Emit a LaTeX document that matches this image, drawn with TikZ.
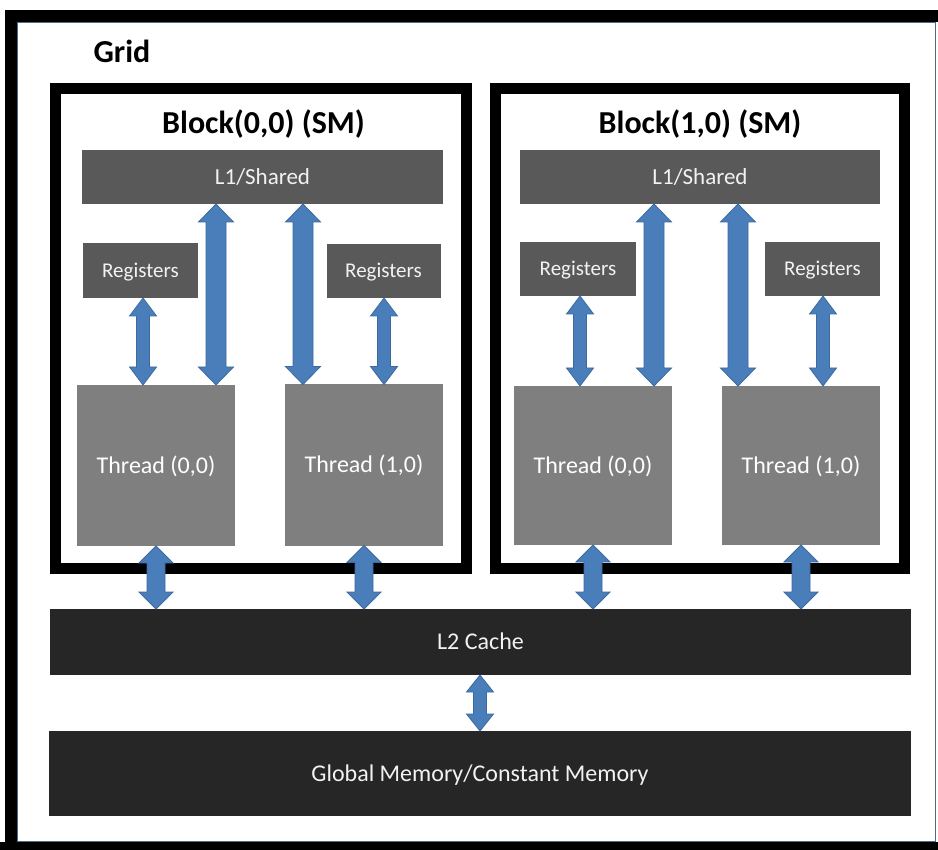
\documentclass[tikz,border=0pt]{standalone}
\usepackage{fontspec}
\setmainfont{Carlito}
\usetikzlibrary{calc}
\definecolor{darkbox}{HTML}{595959}
\definecolor{threadgray}{HTML}{7F7F7F}
\definecolor{blackbox}{HTML}{262626}
\definecolor{txt}{HTML}{F2F2F2}
\definecolor{arrowfill}{HTML}{4A7EBB}
\definecolor{arrowline}{HTML}{3C6A9E}
\definecolor{frameline}{HTML}{4F6B8A}
\newcommand{\fsz}[1]{\fontsize{#1}{#1}\selectfont}
\tikzset{
  box/.style={rectangle, inner sep=0pt, outer sep=0pt, text=txt, text depth=0pt, align=center},
  l1box/.style={box, fill=darkbox, font=\fsz{23}, text height=14.8pt},
  regbox/.style={box, fill=darkbox, font=\fsz{21}, text height=13.5pt},
  threadbox/.style={box, fill=threadgray, text=white, font=\fsz{24}, text height=15.5pt},
  membox/.style={box, fill=blackbox, font=\fsz{24}, text height=15.5pt},
  blockframe/.style={rectangle, draw=black, line width=11pt, inner sep=0pt},
  titletext/.style={font=\bfseries\fsz{32}, anchor=base, inner sep=0pt},
  barrow/.style={fill=arrowfill, draw=arrowline, line width=0.8pt, line join=miter},
}
% vertical double block arrow: #1 x, #2 top node, #3 bottom node, #4 shaft half, #5 head half, #6 head length
\newcommand{\vdarrow}[6]{%
  \path[barrow] let \p1=(#1,0 |- #2.south), \p2=(#1,0 |- #3.north) in
   (\x1,\y1) -- (\x1+#5,\y1-#6) -- (\x1+#4,\y1-#6) -- (\x1+#4,\y2+#6) -- (\x1+#5,\y2+#6)
   -- (\x1,\y2) -- (\x1-#5,\y2+#6) -- (\x1-#4,\y2+#6) -- (\x1-#4,\y1-#6) -- (\x1-#5,\y1-#6) -- cycle;}
\begin{document}
\begin{tikzpicture}[x=1pt,y=-1pt]
\useasboundingbox[fill=white] (0,0) rectangle (938,850);
% outer grid frame
\fill[black] (5,10) rectangle (17,850);
\fill[black] (5,10) rectangle (938,22);
\fill[black] (0,842) rectangle (938,850);
\draw[frameline, line width=0.8pt] (17,22) rectangle (935,841);
\node[titletext] (grid) at (122,63) {Grid};
% block frames
\node[blockframe, minimum width=411.5pt, minimum height=479.5pt] (B0) at (260.75,328.75) {};
\node[blockframe, minimum width=409.5pt, minimum height=479.5pt] (B1) at (699.75,328.75) {};
\node[titletext] (B0t) at (263.5,134) {Block(0,0) (SM)};
\node[titletext] (B1t) at (700,134) {Block(1,0) (SM)};
% L1
\node[l1box, minimum width=361pt, minimum height=54pt] (L1a) at (262.5,177) {L1/Shared};
\node[l1box, minimum width=360pt, minimum height=54pt] (L1b) at (700,177) {L1/Shared};
% registers
\node[regbox, minimum width=115pt, minimum height=55pt] (Ra1) at (140.5,270.5) {Registers};
\node[regbox, minimum width=114pt, minimum height=54pt] (Ra2) at (383.5,271) {Registers};
\node[regbox, minimum width=116pt, minimum height=54pt] (Rb1) at (578,269) {Registers};
\node[regbox, minimum width=115pt, minimum height=54pt] (Rb2) at (822.5,269) {Registers};
% threads
\node[threadbox, minimum width=158pt, minimum height=161pt] (Ta1) at (156,465.5) {Thread (0,0)};
\node[threadbox, minimum width=158pt, minimum height=161pt] (Ta2) at (364,465) {Thread (1,0)};
\node[threadbox, minimum width=158pt, minimum height=159pt] (Tb1) at (593,465.5) {Thread (0,0)};
\node[threadbox, minimum width=158pt, minimum height=159pt] (Tb2) at (801,465.5) {Thread (1,0)};
% memories
\node[membox, minimum width=861pt, minimum height=66pt] (L2) at (480.5,642) {L2 Cache};
\node[membox, minimum width=862pt, minimum height=85pt] (GM) at (480,773.5) {Global Memory/Constant Memory};
% arrows
\vdarrow{143}{Ra1}{Ta1}{6.5pt}{13.5pt}{18pt}
\vdarrow{216}{L1a}{Ta1}{10pt}{17.5pt}{18pt}
\vdarrow{303}{L1a}{Ta2}{10pt}{17.5pt}{18pt}
\vdarrow{384}{Ra2}{Ta2}{6.5pt}{13.5pt}{18pt}
\vdarrow{580}{Rb1}{Tb1}{6.5pt}{13.5pt}{18pt}
\vdarrow{654}{L1b}{Tb1}{10pt}{17.5pt}{18pt}
\vdarrow{738}{L1b}{Tb2}{10pt}{17.5pt}{18pt}
\vdarrow{823}{Rb2}{Tb2}{6.5pt}{13.5pt}{18pt}
\vdarrow{156}{Ta1}{L2}{9pt}{17pt}{17pt}
\vdarrow{364}{Ta2}{L2}{9pt}{17pt}{17pt}
\vdarrow{593}{Tb1}{L2}{9pt}{17pt}{17pt}
\vdarrow{801}{Tb2}{L2}{9pt}{17pt}{17pt}
\vdarrow{480}{L2}{GM}{6.5pt}{13.5pt}{17pt}
\end{tikzpicture}
\end{document}
